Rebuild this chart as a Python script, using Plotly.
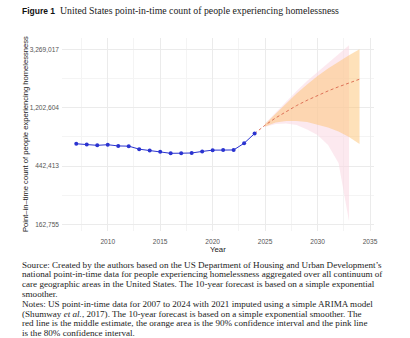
import plotly.graph_objects as go

# ---- data ----
obs_years = list(range(2007, 2025))
obs_count = [647258, 639784, 630227, 637077, 623788, 621553, 590364, 576450, 564708,
             549928, 550996, 552830, 567715, 580466, 581000, 582462, 653104, 771480]

fc_years = list(range(2025, 2035))
fc_mean = [890000, 1008000, 1127000, 1245000, 1363000, 1482000, 1600000, 1718000, 1837000, 1955000]
orange_lo = [870000, 932000, 956000, 956000, 940000, 900000, 855000, 798000, 727000, 645000]
orange_hi = [910000, 1084000, 1298000, 1534000, 1786000, 2064000, 2345000, 2638000, 2947000, 3265000]

pink_years = list(range(2025, 2034))
pink_lo = [863000, 908000, 916000, 893000, 826000, 752000, 634000, 466000, 172000]
pink_hi = [917000, 1108000, 1337000, 1597000, 1900000, 2212000, 2566000, 2970000, 3500000]

y_tickvals = [162755, 442413, 1202604, 3269017]
y_ticktext = ["162,755", "442,413", "1,202,604", "3,269,017"]
y_minor = [268337, 729416, 1982759]
x_tickvals = [2010, 2015, 2020, 2025, 2030, 2035]
x_minor = [2007.5, 2012.5, 2017.5, 2022.5, 2027.5, 2032.5]

title_bold = "Figure 1"
title_text = "United States point-in-time count of people experiencing homelessness"
y_title = "Point\u2013in\u2013time count of people experiencing homelessness"
x_title = "Year"
caption_lines = [
    "Source: Created by the authors based on the US Department of Housing and Urban Development\u2019s",
    "national point-in-time data for people experiencing homelessness aggregated over all continuum of",
    "care geographic areas in the United States. The 10-year forecast is based on a simple exponential",
    "smoother.",
    "Notes: US point-in-time data for 2007 to 2024 with 2021 imputed using a simple ARIMA model",
    "(Shumway <i>et al.</i>, 2017). The 10-year forecast is based on a simple exponential smoother. The",
    "red line is the middle estimate, the orange area is the 90% confidence interval and the pink line",
    "is the 80% confidence interval.",
]

# ---- layout geometry (pixels) ----
W, H = 410, 338
L, R, T, B = 62, 374, 38, 231


def px_x(px):
    return (px - L) / (R - L)


def px_y(py):
    return (B - py) / (B - T)


fig = go.Figure()

fig.add_trace(go.Scatter(
    x=pink_years + pink_years[::-1], y=pink_hi + pink_lo[::-1],
    fill="toself", fillcolor="rgba(250,215,225,0.55)", line=dict(width=0),
    mode="lines", hoverinfo="skip", showlegend=False))
fig.add_trace(go.Scatter(
    x=fc_years + fc_years[::-1], y=orange_hi + orange_lo[::-1],
    fill="toself", fillcolor="rgba(254,195,115,0.5)", line=dict(width=0),
    mode="lines", hoverinfo="skip", showlegend=False))
fig.add_trace(go.Scatter(
    x=[obs_years[-1]] + fc_years, y=[obs_count[-1]] + fc_mean,
    mode="lines", line=dict(color="rgba(215,95,70,0.85)", width=1, dash="3px,2.5px"),
    showlegend=False))
fig.add_trace(go.Scatter(
    x=obs_years, y=obs_count, mode="lines+markers",
    line=dict(color="#2a33d0", width=1), marker=dict(color="#2a33d0", size=4),
    showlegend=False))

grid_major = "#EBEBEB"
grid_minor = "#F4F4F4"

fig.update_xaxes(
    range=[2005.64, 2035.38], tickmode="array", tickvals=x_tickvals,
    showgrid=True, gridcolor=grid_major, gridwidth=1, zeroline=False, showline=False,
    ticks="outside", ticklen=4, tickcolor="rgba(0,0,0,0)",
    tickfont=dict(family="Liberation Sans", size=6.6, color="#555555"),
    minor=dict(tickvals=x_minor, showgrid=True, gridcolor=grid_minor, gridwidth=0.6),
)
fig.update_yaxes(
    type="log", range=[5.1625, 6.5977], tickmode="array",
    tickvals=y_tickvals, ticktext=y_ticktext,
    showgrid=True, gridcolor=grid_major, gridwidth=1, zeroline=False, showline=False,
    ticks="", ticklabelstandoff=2,
    tickfont=dict(family="Liberation Sans", size=6.6, color="#555555"),
    minor=dict(tickvals=y_minor, showgrid=True, gridcolor=grid_minor, gridwidth=0.6),
)

ann = []
ann.append(dict(text="<b>" + title_bold + "</b>", x=px_x(20), y=px_y(11), xref="paper", yref="paper",
                xanchor="left", yanchor="middle", showarrow=False,
                font=dict(family="Liberation Sans", size=8.5, color="#111111")))
ann.append(dict(text=title_text, x=px_x(58), y=px_y(11), xref="paper", yref="paper",
                xanchor="left", yanchor="middle", showarrow=False,
                font=dict(family="Liberation Serif", size=9.8, color="#222222")))
ann.append(dict(text=y_title, x=px_x(25.5), y=px_y((T + B) / 2), xref="paper", yref="paper",
                xanchor="center", yanchor="middle", textangle=-90, showarrow=False,
                font=dict(family="Liberation Sans", size=7.6, color="#222222")))
ann.append(dict(text=x_title, x=px_x(218), y=px_y(249.5), xref="paper", yref="paper",
                xanchor="center", yanchor="middle", showarrow=False,
                font=dict(family="Liberation Sans", size=7.8, color="#222222")))
for i, line in enumerate(caption_lines):
    ann.append(dict(text=line, x=px_x(20), y=px_y(264.5 + 9.8 * i), xref="paper", yref="paper",
                    xanchor="left", yanchor="middle", showarrow=False,
                    font=dict(family="Liberation Serif", size=9.1, color="#222222")))

fig.update_layout(
    width=W, height=H, margin=dict(l=L, r=W - R, t=T, b=H - B),
    paper_bgcolor="white", plot_bgcolor="white", annotations=ann, showlegend=False,
)

fig.write_html("out.html")
